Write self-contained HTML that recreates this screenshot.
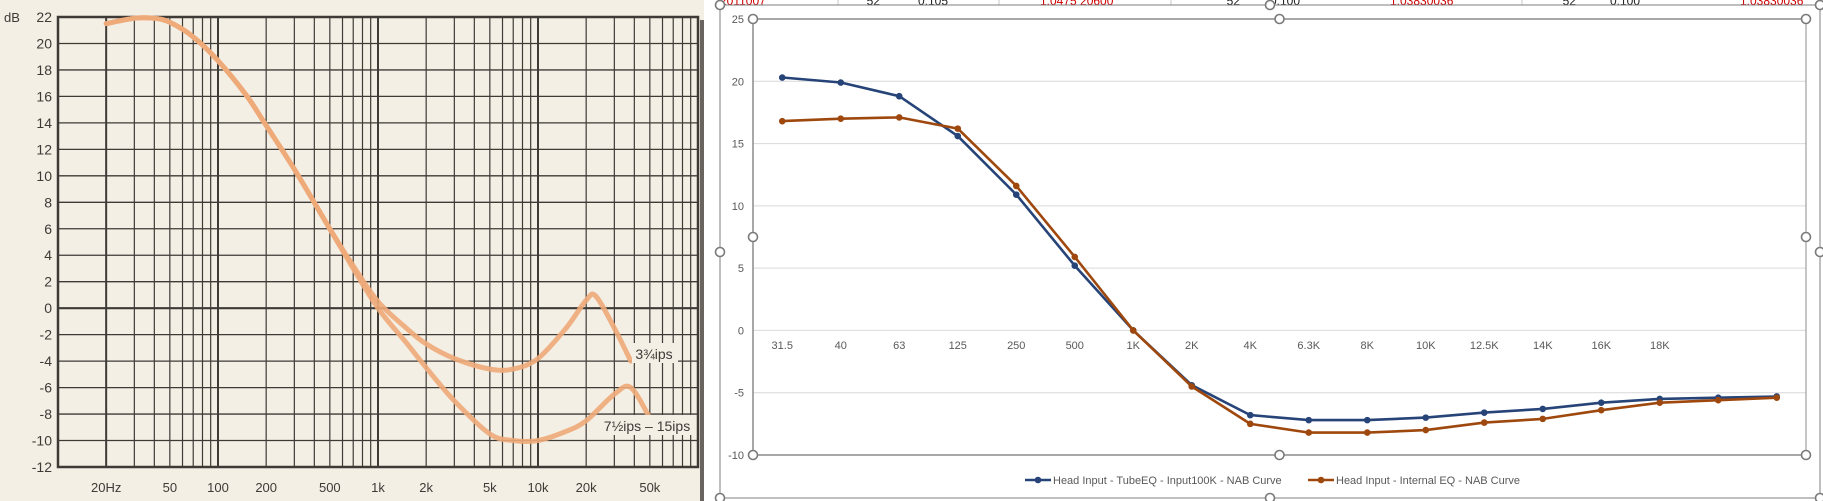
<!DOCTYPE html>
<html><head><meta charset="utf-8">
<style>
html,body{margin:0;padding:0;background:#fff;}
body{width:1823px;height:501px;overflow:hidden;position:relative;font-family:"Liberation Sans",sans-serif;}
svg{position:absolute;left:0;top:0;}
</style></head>
<body>
<svg id="s" width="1823" height="501" viewBox="0 0 1823 501" xmlns="http://www.w3.org/2000/svg">
  <rect x="0" y="0" width="704" height="501" fill="#f3efe5"/>
  <rect x="700" y="20" width="4" height="481" fill="#6a6460"/>
  <g id="left"></g>
  <g id="sheet"></g>
  <g id="right"></g>
</svg>
<script>
// ---------- Left chart data (scanned NAB curves) ----------
const refFreqs = [20,30,40,50,70,100,150,200,300,500,700,1000,1500,2000,3000,5000,7000,10000,15000,20000,23000,30000,38000];
const ips375 = [21.5,21.9,21.9,21.6,20.5,18.7,16.1,13.8,10.5,6.0,3.2,0.5,-1.5,-2.7,-3.8,-4.6,-4.6,-3.8,-1.5,0.6,0.9,-1.5,-4.0];
const refFreqs2 = [20,30,40,50,70,100,150,200,300,500,700,1000,1500,2000,3000,5000,7000,10000,15000,20000,30000,38000,50000];
const ips75 = [21.5,21.9,21.9,21.6,20.5,18.7,16.1,13.8,10.5,6.0,3.0,0.0,-2.6,-4.5,-7.0,-9.5,-10.0,-10.0,-9.3,-8.5,-6.5,-6.0,-8.3];
const refYTicks = [22,20,18,16,14,12,10,8,6,4,2,0,-2,-4,-6,-8,-10,-12];
const refXTicks = [20,50,100,200,500,1000,2000,5000,10000,20000,50000];
const refXLabels = ["20Hz","50","100","200","500","1k","2k","5k","10k","20k","50k"];

// ---------- Right chart data (Excel) ----------
const cats = ["31.5","40","63","125","250","500","1K","2K","4K","6.3K","8K","10K","12.5K","14K","16K","18K","",""];
const tubeEQ = [20.3,19.9,18.8,15.6,10.9,5.2,0,-4.4,-6.8,-7.2,-7.2,-7.0,-6.6,-6.3,-5.8,-5.5,-5.4,-5.3];
const internalEQ = [16.8,17.0,17.1,16.2,11.6,5.9,0,-4.5,-7.5,-8.2,-8.2,-8.0,-7.4,-7.1,-6.4,-5.8,-5.6,-5.4];
const rightYTicks = [25,20,15,10,5,0,-5,-10];

const NS="http://www.w3.org/2000/svg";
function mk(parent,tag,attrs,text){const e=document.createElementNS(NS,tag);for(const k in attrs)e.setAttribute(k,attrs[k]);if(text!==undefined)e.textContent=text;parent.appendChild(e);return e;}

// ===== Left chart =====
const L=document.getElementById('left');
const lx0=58,lx1=698,ly0=17,ly1=467;
const fx=f=>lx0+(Math.log10(f)-1)*160;
const dy=d=>ly0+(22-d)*(ly1-ly0)/34;
const INK="#3e3a36";
for(let dec=1;dec<=10000;dec*=10){
  for(let m=1;m<=9;m++){
    const x=fx(dec*m);
    if(x<=lx0+0.5) continue;
    const ln=mk(L,'line',{x1:x,y1:ly0,x2:x,y2:ly1,stroke:INK,'stroke-width':(m===1||(m===2&&dec===10))?2:1.2});
    
    
  }
}
refYTicks.forEach(v=>{
  const y=dy(v);
  const ln=mk(L,'line',{x1:lx0,y1:y,x2:lx1,y2:y,stroke:INK,'stroke-width':v===0?2.2:1.3});
  
  
  const t=mk(L,'text',{x:52,y:y+5,'text-anchor':'end','font-size':14,fill:INK,'font-family':'Liberation Sans Narrow, Liberation Sans, sans-serif'},String(v));
  
  
});
const dbl=mk(L,'text',{x:4,y:22,'font-size':13,fill:INK,'font-family':'Liberation Sans Narrow, Liberation Sans, sans-serif'},'dB');


const fr=mk(L,'rect',{x:lx0,y:ly0,width:lx1-lx0,height:ly1-ly0,fill:'none',stroke:INK,'stroke-width':2.5});


refXTicks.forEach((f,i)=>{
  const t=mk(L,'text',{x:fx(f),y:492,'text-anchor':'middle','font-size':13,fill:INK,'font-family':'Liberation Sans Narrow, Liberation Sans, sans-serif'},refXLabels[i]);
  
  
});
function curve(fs,vs){
  const p=fs.map((f,i)=>[fx(f),dy(vs[i])]);
  let d='M'+p[0][0].toFixed(1)+','+p[0][1].toFixed(1);
  for(let i=0;i<p.length-1;i++){
    const p0=p[Math.max(0,i-1)],p1=p[i],p2=p[i+1],p3=p[Math.min(p.length-1,i+2)];
    const c1x=p1[0]+(p2[0]-p0[0])/6,c1y=p1[1]+(p2[1]-p0[1])/6;
    const c2x=p2[0]-(p3[0]-p1[0])/6,c2y=p2[1]-(p3[1]-p1[1])/6;
    d+=' C'+c1x.toFixed(1)+','+c1y.toFixed(1)+' '+c2x.toFixed(1)+','+c2y.toFixed(1)+' '+p2[0].toFixed(1)+','+p2[1].toFixed(1);
  }
  return d;
}
const c1=mk(L,'path',{d:curve(refFreqs,ips375),fill:'none',stroke:'#eeaa78','stroke-width':5,'stroke-linejoin':'round','stroke-linecap':'round',opacity:0.9});


const c2=mk(L,'path',{d:curve(refFreqs2,ips75),fill:'none',stroke:'#eeaa78','stroke-width':5,'stroke-linejoin':'round','stroke-linecap':'round',opacity:0.9});


mk(L,'rect',{x:632,y:343,width:46,height:20,fill:'#f3efe5'});
const lb1=mk(L,'text',{x:654,y:359,'text-anchor':'middle','font-size':14,fill:INK},'3¾ips');


mk(L,'rect',{x:602,y:415,width:92,height:20,fill:'#f3efe5'});
const lb2=mk(L,'text',{x:647,y:431,'text-anchor':'middle','font-size':14,fill:INK},'7½ips – 15ips');



// ===== Spreadsheet strip =====
const S=document.getElementById('sheet');
[[720,'2011007','#d00000','start'],[880,'52','#222','end'],[918,'0.105','#222','start'],[1040,'1.0475 20600','#d00000','start'],[1240,'52','#222','end'],[1270,'0.100','#222','start'],[1390,'1.03830036','#d00000','start'],[1576,'52','#222','end'],[1610,'0.100','#222','start'],[1740,'1.03830036','#d00000','start']].forEach(a=>{
  const t=mk(S,'text',{x:a[0],y:5,'font-size':12,fill:a[2],'text-anchor':a[3]},a[1]);
  
  
});
[838,999,1171,1522].forEach(x=>mk(S,'line',{x1:x,y1:0,x2:x,y2:5,stroke:'#c8c8c8'}));

// ===== Right chart =====
const R=document.getElementById('right');
const ca=mk(R,'rect',{x:720,y:5,width:1100,height:493,fill:'#fff',stroke:'#7f7f7f','stroke-width':1});


const px0=753,px1=1806,py0=19,py1=455;
const ymin=-10,ymax=25;
const ry=v=>py1-(v-ymin)*(py1-py0)/(ymax-ymin);
const bw=(px1-px0)/cats.length;
const rx=i=>px0+bw*(i+0.5);
rightYTicks.forEach(v=>{
  const y=ry(v);
  const ln=mk(R,'line',{x1:px0,y1:y,x2:px1,y2:y,stroke:(v===25||v===-10)?'#8c8c8c':'#d9d9d9','stroke-width':(v===25||v===-10)?1.5:1});
  
  
  const t=mk(R,'text',{x:744,y:y+4,'text-anchor':'end','font-size':11,fill:'#595959','font-family':'Liberation Sans Narrow, Liberation Sans, sans-serif'},String(v));
  
  
});
mk(R,'line',{x1:px0,y1:py0,x2:px0,y2:py1,stroke:'#8c8c8c','stroke-width':1.5});
mk(R,'line',{x1:px1,y1:py0,x2:px1,y2:py1,stroke:'#8c8c8c','stroke-width':1});
cats.forEach((c,i)=>{
  const t=mk(R,'text',{x:rx(i),y:349,'text-anchor':'middle','font-size':11,fill:'#595959','font-family':'Liberation Sans Narrow, Liberation Sans, sans-serif'},c);
  
  
});
function series(vals,color,name){
  const p=mk(R,'polyline',{points:vals.map((v,i)=>rx(i).toFixed(1)+','+ry(v).toFixed(1)).join(' '),fill:'none',stroke:color,'stroke-width':2.6,'stroke-linejoin':'round'});
  
  
  vals.forEach((v,i)=>{
    const c=mk(R,'circle',{cx:rx(i),cy:ry(v),r:3.3,fill:color});
    
    
  });
}
series(tubeEQ,'#264478','tubeeq');
series(internalEQ,'#9e480e','internal-eq');
// handles
[[px0,py0],[(px0+px1)/2,py0],[px1,py0],[px0,(py0+py1)/2],[px1,(py0+py1)/2],[px0,py1],[(px0+px1)/2,py1],[px1,py1],
 [720,5],[1270,5],[1820,5],[720,252],[1820,252],[720,498],[1270,498],[1820,498]].forEach(h=>{
  const c=mk(R,'circle',{cx:h[0],cy:h[1],r:4.5,fill:'#fff',stroke:'#7a7a7a','stroke-width':1.6});
  
  
});
// legend
function legend(x,color,label,name){
  const g=mk(R,'g',{});
  
  
  mk(g,'line',{x1:x,y1:480,x2:x+26,y2:480,stroke:color,'stroke-width':2.6});
  mk(g,'circle',{cx:x+13,cy:480,r:3.3,fill:color});
  mk(g,'text',{x:x+28,y:484,'font-size':11,fill:'#595959','font-family':'Liberation Sans Narrow, Liberation Sans, sans-serif'},label);
}
legend(1025,'#264478','Head Input - TubeEQ - Input100K - NAB Curve','legend-tubeeq');
legend(1308,'#9e480e','Head Input - Internal EQ - NAB Curve','legend-internal-eq');
</script>
</body></html>
